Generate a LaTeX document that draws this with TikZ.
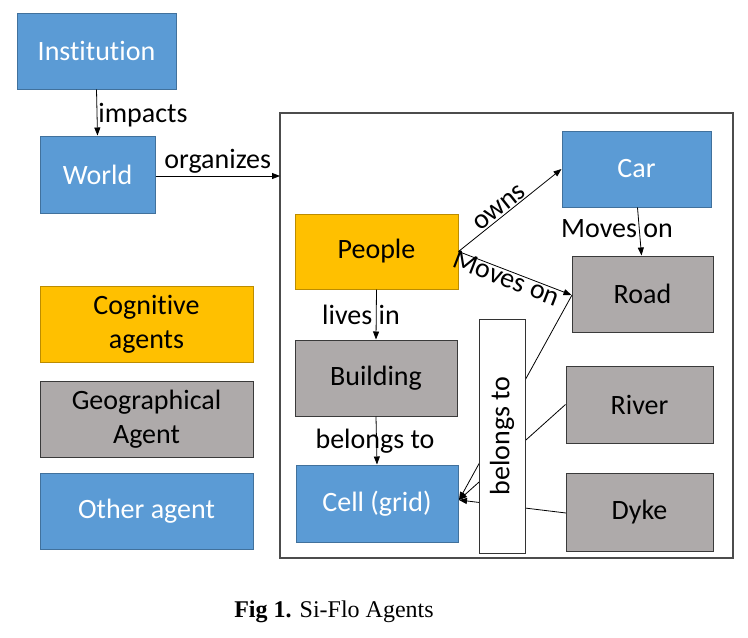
\documentclass[tikz,border=0pt]{standalone}
\usepackage{fontspec}
\setmainfont[Ligatures={NoCommon}]{Carlito}
\newfontfamily\capfont{Liberation Serif}
\usetikzlibrary{arrows.meta}
\definecolor{cblue}{HTML}{5B9BD5}
\definecolor{cblueb}{HTML}{41719C}
\definecolor{cyel}{HTML}{FFC000}
\definecolor{cyelb}{HTML}{BC8C00}
\definecolor{cgray}{HTML}{AEAAAA}
\definecolor{cgrayb}{HTML}{3A3A3A}
\begin{document}
\begin{tikzpicture}[x=1pt,y=-1pt,
  every node/.style={font=\fontsize{28}{34}\selectfont},
  bx/.style={draw, line width=1pt, inner sep=0pt, align=center},
  bluebox/.style={bx, fill=cblue, draw=cblueb, text=white},
  yelbox/.style={bx, fill=cyel, draw=cyelb, text=black},
  graybox/.style={bx, fill=cgray, draw=cgrayb, text=black},
  lbl/.style={inner sep=1pt, text=black},
  conn/.style={line width=0.8pt, -{Triangle[length=8pt,width=6pt]}},
  plain/.style={line width=0.8pt}
]
\useasboundingbox (0,0) rectangle (748,638);
% frame
\draw[line width=1.4pt, draw=black!70] (280,113) rectangle (733,558);
% nodes
\node[bluebox, minimum width=159pt, minimum height=76pt] (inst) at (96.5,51) {Institution};
\node[bluebox, minimum width=115pt, minimum height=77pt] (world) at (97.5,174.5) {World};
\node[yelbox, minimum width=213pt, minimum height=76pt] (cog) at (146.5,324) {Cognitive\\agents};
\node[graybox, minimum width=213pt, minimum height=76pt] (geo) at (146.5,419) {Geographical\\Agent};
\node[bluebox, minimum width=213pt, minimum height=76pt] (oth) at (146.5,511) {Other agent};

\node[bluebox, minimum width=149pt, minimum height=76pt] (car) at (636.5,169) {Car};
\node[yelbox, minimum width=163pt, minimum height=75pt] (people) at (376.5,251.5) {People};
\node[graybox, minimum width=141pt, minimum height=76pt] (road) at (642.5,294) {Road};
\node[graybox, minimum width=162pt, minimum height=76pt] (build) at (376,378) {Building};
\node[graybox, minimum width=147pt, minimum height=77pt] (river) at (639.5,404.5) {River};
\node[graybox, minimum width=147pt, minimum height=78pt] (dyke) at (639.5,512) {Dyke};
\node[bluebox, minimum width=162pt, minimum height=77pt] (cell) at (377,503.5) {Cell (grid)};

\coordinate (frameL) at (280,176);
\coordinate (cellR) at (459,500);

% connectors
\draw[conn] (inst.south) -- node[lbl, right, pos=0.55] (limp) {impacts} (world.north);
\draw[conn] (world.east |- frameL) -- node[lbl, above, yshift=1pt] (lorg) {organizes} (frameL);
\draw[conn] (people.east) -- node[lbl, sloped, above, pos=0.45] (lowns) {owns} (car.west);
\draw[conn] (people.east) -- node[lbl, sloped, below, pos=0.45, yshift=3pt] (lmov1) {Moves on} ([yshift=-1pt]road.west);
\draw[conn] ([xshift=1pt]car.south) -- ([xshift=-1pt]road.north);
\node[lbl] (lmov2) at (617,229) {Moves on};
\draw[conn] (people.south) -- (build.north);
\node[lbl] (llive) at (361,315) {lives in};
\draw[conn] (build.south) -- (cell.north);
\node[lbl] (lbel) at (375,441) {belongs to};
\draw[conn] (572,295) -- (cellR);
\draw[conn] (river.west) -- (cellR);
\draw[conn] (566,513) -- (cellR);
% belongs to box
\node[draw=black!80, fill=white, line width=1pt, minimum width=46pt, minimum height=234pt, inner sep=0pt] (belbox) at (502,436) {};
\node[lbl, rotate=90] (lbel2) at (belbox.center) {belongs to};

% caption
\node[font=\capfont\fontsize{24}{28}\selectfont, text=black] (cap) at (334,612) {\textbf{Fig 1.} Si-Flo Agents};
\end{tikzpicture}
\end{document}
